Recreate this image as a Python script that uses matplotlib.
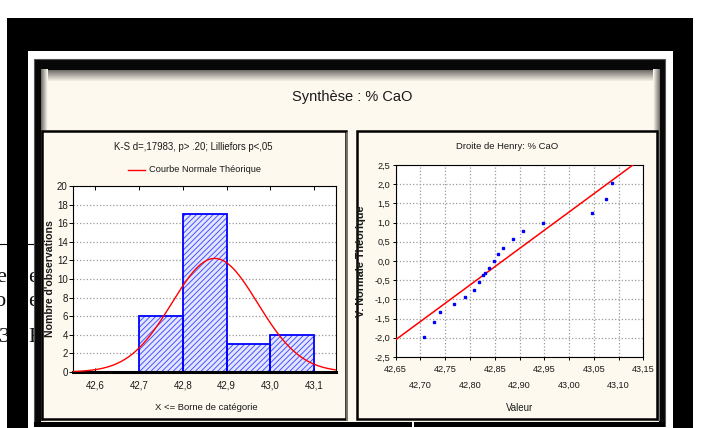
import numpy as np
import matplotlib
matplotlib.use("Agg")
import matplotlib.pyplot as plt
from matplotlib.patches import Rectangle

plt.rcParams['font.family'] = ['Liberation Sans', 'DejaVu Sans']
plt.rcParams['hatch.linewidth'] = 0.7

# ======== data ========
bin_left = [42.7, 42.8, 42.9, 43.0]
bin_counts = [6, 17, 3, 4]
bin_width = 0.1
n_obs = 30
cao_mean = 42.873
cao_sd = 0.098

hist_ticks = [42.6, 42.7, 42.8, 42.9, 43.0, 43.1]
hist_ticklabels = ['42,6', '42,7', '42,8', '42,9', '43,0', '43,1']
count_ticks = [0, 2, 4, 6, 8, 10, 12, 14, 16, 18, 20]

# droite de Henry : valeurs observées / valeur normale théorique
henry_val = [42.707, 42.727, 42.739, 42.767, 42.789, 42.808, 42.818, 42.827, 42.830,
             42.839, 42.849, 42.857, 42.867, 42.887, 42.907, 42.947, 43.047, 43.075, 43.087]
henry_z = [-1.97, -1.58, -1.32, -1.12, -0.95, -0.75, -0.55, -0.37, -0.30,
           -0.19, 0.01, 0.17, 0.35, 0.57, 0.79, 1.00, 1.26, 1.61, 2.04]
henry_line_x = [42.65, 43.15]
henry_line_y = [-2.05, 2.70]

henry_row1 = [42.65, 42.75, 42.85, 42.95, 43.05, 43.15]
henry_row1_labels = ['42,65', '42,75', '42,85', '42,95', '43,05', '43,15']
henry_row2 = [42.70, 42.80, 42.90, 43.00, 43.10]
henry_row2_labels = ['42,70', '42,80', '42,90', '43,00', '43,10']
z_ticks = [-2.5, -2.0, -1.5, -1.0, -0.5, 0.0, 0.5, 1.0, 1.5, 2.0, 2.5]
z_ticklabels = ['-2,5', '-2,0', '-1,5', '-1,0', '-0,5', '0,0', '0,5', '1,0', '1,5', '2,0', '2,5']

W, H = 701, 428
CREAM = '#fdf9ee'
TXT = '#1a1a1a'

fig = plt.figure(figsize=(W / 100, H / 100), dpi=100)
fig.patch.set_facecolor('white')

# fond (coordonnées en pixels, origine en haut à gauche)
bg = fig.add_axes([0, 0, 1, 1])
bg.set_xlim(0, W)
bg.set_ylim(H, 0)
bg.axis('off')


def rect(x0, y0, x1, y1, fc, ec='none', lw=0, z=1):
    bg.add_patch(Rectangle((x0, y0), x1 - x0, y1 - y0, facecolor=fc, edgecolor=ec, linewidth=lw, zorder=z))


def px_axes(x0, y0, x1, y1):
    return fig.add_axes([x0 / W, 1 - y1 / H, (x1 - x0) / W, (y1 - y0) / H])


# texte du document sous l'image (visible seulement sur les bords)
serif = dict(family='Liberation Serif', fontsize=16, color='#111111', va='center', ha='left')
bg.plot([0, 36], [244, 244], color='black', lw=0.8, zorder=3.5)
bg.text(-4, 278, 'e', zorder=0, **serif)
bg.text(28.5, 278, 'e', zorder=3.5, **serif)
bg.text(-6, 302, 'o', zorder=0, **serif)
bg.text(28.5, 302, 'e', zorder=3.5, **serif)
bg.text(-1, 338, '3', zorder=0, **serif)
bg.text(28.5, 338, 'F', zorder=3.5, **serif)

# cadres
rect(7, 18, 692.7, H, 'black', z=2)
rect(28, 50.7, 672.7, H, 'white', z=3)
rect(34.3, 59.3, 665, H, '#080808', ec='#555555', lw=0.8, z=4)
rect(40.7, 70, 659, 421.5, CREAM, z=5)

# ombres du panneau
shade = np.linspace(0, 1, 12)
c0 = np.array([0.45, 0.44, 0.42])
c1 = np.array([0.992, 0.976, 0.933])
top_grad = (c0[None, :] * (1 - shade[:, None]) + c1[None, :] * shade[:, None])[:, None, :]
bg.imshow(top_grad, extent=(40.7, 659, 82, 70), aspect='auto', zorder=6, interpolation='bilinear')
side = np.linspace(0, 1, 8)
left_grad = (c0[None, :] * (1 - side[:, None]) + c1[None, :] * side[:, None])[None, :, :]
bg.imshow(left_grad, extent=(40.7, 47, 421.5, 70), aspect='auto', zorder=6, interpolation='bilinear')
bg.imshow(left_grad[:, ::-1, :], extent=(652.5, 659, 421.5, 70), aspect='auto', zorder=6, interpolation='bilinear')

rect(34.3, 421.5, 665, 426.5, 'black', z=7)
rect(411.5, 421.5, 413.5, 426.5, 'white', z=7)
rect(28, 426.5, 672.7, H, 'white', z=7)

# sous-panneaux
rect(41.5, 131, 345.5, 419.5, CREAM, ec='black', lw=1.8, z=8)
rect(357, 131, 657, 419.5, CREAM, ec='black', lw=1.8, z=8)
bg.plot([347, 347], [133, 420], color='#8a8780', lw=1.2, zorder=8)

bg.text(352, 97, 'Synthèse : % CaO', fontsize=10.5, color=TXT, ha='center', va='center', zorder=9)

# ======== histogramme ========
bg.text(193.5, 147, 'K-S d=,17983, p> .20; Lilliefors p<,05', fontsize=6.9, color=TXT,
        ha='center', va='center', zorder=9)
bg.plot([128, 145], [169.5, 169.5], color='red', lw=1, zorder=9)
bg.text(149, 169.5, 'Courbe Normale Théorique', fontsize=6.7, color=TXT, ha='left', va='center', zorder=9)
bg.text(206, 407.5, 'X <= Borne de catégorie', fontsize=6.8, color=TXT, ha='center', va='center', zorder=9)
bg.text(50, 279, "Nombre d'observations", fontsize=7.6, fontweight='bold', color=TXT,
        ha='center', va='center', rotation=90, zorder=9)

ax1 = px_axes(73.3, 186, 336, 372)
ax1.set_facecolor('white')
# hachures puis contour
ax1.bar(bin_left, bin_counts, width=bin_width, align='edge', facecolor='#e4e6ff',
        edgecolor='#4854ff', linewidth=0, hatch='//////', zorder=2)
ax1.bar(bin_left, bin_counts, width=bin_width, align='edge', facecolor='none',
        edgecolor='#0000ff', linewidth=1.3, zorder=2.5)
xs = np.linspace(42.55, 43.15, 300)
ys = n_obs * bin_width / (cao_sd * np.sqrt(2 * np.pi)) * np.exp(-0.5 * ((xs - cao_mean) / cao_sd) ** 2)
ax1.plot(xs, ys, color='red', lw=1, zorder=3)
ax1.set_xlim(42.55, 43.15)
ax1.set_ylim(0, 20)
ax1.set_xticks(hist_ticks)
ax1.set_xticklabels(hist_ticklabels)
ax1.set_yticks(count_ticks)
ax1.yaxis.grid(True, linestyle=':', color='#9a9a9a', lw=0.9)
ax1.set_axisbelow(True)
ax1.tick_params(axis='x', direction='in', top=True, length=3, width=0.7, pad=6,
                labelsize=7, labelcolor=TXT)
ax1.tick_params(axis='y', direction='out', length=3, width=0.7, pad=1,
                labelsize=7, labelcolor=TXT)
for s in ['left', 'top', 'right']:
    ax1.spines[s].set_linewidth(0.8)
ax1.spines['bottom'].set_linewidth(2.2)

# ======== droite de Henry ========
bg.text(507, 146.7, 'Droite de Henry: % CaO', fontsize=6.8, color=TXT, ha='center', va='center', zorder=9)
bg.text(520, 408.3, 'Valeur', fontsize=7, color=TXT, ha='center', va='center', zorder=9)
bg.text(361.5, 261, 'V. Normale Théorique', fontsize=7.8, fontweight='bold', color=TXT,
        ha='center', va='center', rotation=90, zorder=9)

ax2 = px_axes(395.7, 165, 643.3, 357)
ax2.set_facecolor('white')
ax2.plot(henry_line_x, henry_line_y, color='red', lw=1.1, zorder=3)
ax2.plot(henry_val, henry_z, linestyle='none', marker='s', markersize=2, color='#0000ff', zorder=4)
ax2.set_xlim(42.65, 43.15)
ax2.set_ylim(-2.5, 2.5)
ax2.set_xticks(henry_row1)
ax2.set_xticklabels(henry_row1_labels)
ax2.set_xticks(henry_row2, minor=True)
ax2.set_xticklabels(henry_row2_labels, minor=True)
ax2.set_yticks(z_ticks)
ax2.set_yticklabels(z_ticklabels)
ax2.grid(True, which='both', linestyle=':', color='#9a9a9a', lw=0.9)
ax2.set_axisbelow(True)
ax2.tick_params(axis='x', which='major', direction='out', length=2.5, width=0.7, pad=3,
                labelsize=6.6, labelcolor=TXT)
ax2.tick_params(axis='x', which='minor', direction='out', length=2.5, width=0.7, pad=15,
                labelsize=6.6, labelcolor=TXT)
ax2.tick_params(axis='y', direction='out', length=2.5, width=0.7, pad=1.5,
                labelsize=6.6, labelcolor=TXT)
for s in ax2.spines.values():
    s.set_linewidth(0.8)

fig.savefig('out.png', dpi=100)
